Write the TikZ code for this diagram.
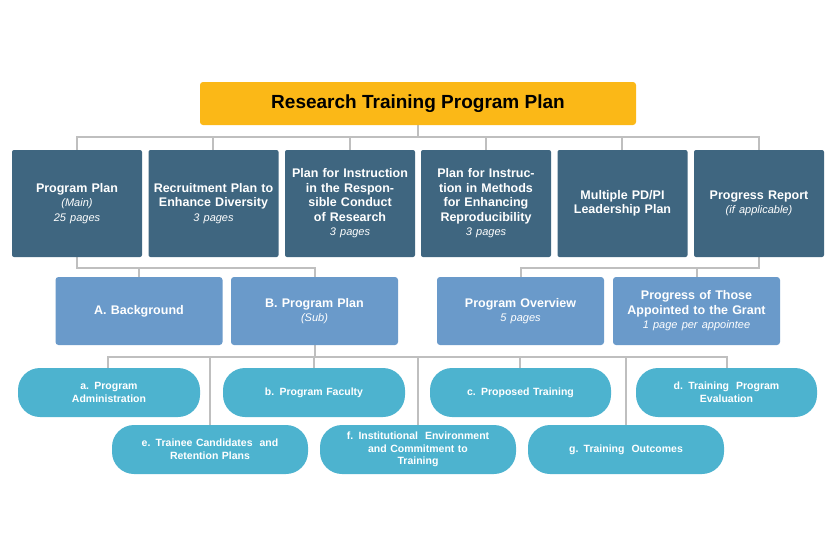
\documentclass[tikz,border=0pt]{standalone}
\usepackage{fontspec}
\setmainfont{Liberation Sans}
\newcommand\subtx[1]{{\normalfont\itshape\fontsize{11}{13}\selectfont #1}}
\begin{document}
\begin{tikzpicture}[x=1pt,y=-1pt,
 conn/.style={draw=black!25,line width=2.5pt},
 topbox/.style={fill=topc,draw=none,rounded corners=2pt,text=white,font=\bfseries\fontsize{12.5}{14.5}\selectfont,align=center,minimum width=130pt,minimum height=107pt,inner sep=1pt,text width=126pt},
 midbox/.style={fill=midc,draw=none,rounded corners=3pt,text=white,font=\bfseries\fontsize{12.5}{14.5}\selectfont,align=center,minimum width=167pt,minimum height=68pt,inner sep=1pt,text width=160pt},
 pill/.style={fill=pillc,draw=none,rounded corners=22pt,text=white,font=\bfseries\fontsize{10.5}{13}\selectfont,align=center,minimum height=49pt,inner sep=1pt}]
\definecolor{topc}{HTML}{3F6680}
\definecolor{midc}{HTML}{6A9ACA}
\definecolor{pillc}{HTML}{4DB3CF}
\definecolor{orangec}{HTML}{FBB817}
\useasboundingbox (0,0) rectangle (835,557);
\draw[conn] (418,125) -- (418,137);
\draw[conn] (77,150) -- (77,137) -- (759,137) -- (759,150);
\foreach \x in {213,350,486,622} \draw[conn] (\x,137) -- (\x,150);
\draw[conn] (77,257) -- (77,268) -- (139,268) -- (139,277);
\draw[conn] (139,268) -- (315,268) -- (315,277);
\draw[conn] (759,257) -- (759,268) -- (521,268) -- (521,277);
\draw[conn] (697,268) -- (697,277);
\draw[conn] (315,345) -- (315,357);
\draw[conn] (108,368) -- (108,357) -- (727,357) -- (727,368);
\draw[conn] (210,357) -- (210,425);
\draw[conn] (314,357) -- (314,368);
\draw[conn] (418,357) -- (418,425);
\draw[conn] (520,357) -- (520,368);
\draw[conn] (626,357) -- (626,425);
\node[fill=orangec,rounded corners=3pt,minimum width=436pt,minimum height=43pt,font=\bfseries\fontsize{19}{22}\selectfont] (title) at (418,103.5) {Research Training Program Plan};
\node[topbox] (p1) at (77,203.5) {Program Plan\\\subtx{(Main)}\\\subtx{25 pages}};
\node[topbox] (p2) at (213.5,203.5) {Recruitment Plan to Enhance Diversity\\\subtx{3 pages}};
\node[topbox] (p3) at (350,203.5) {Plan for Instruction in the Responsible Conduct of Research\\\subtx{3 pages}};
\node[topbox] (p4) at (486,203.5) {Plan for Instruction in Methods for Enhancing Reproducibility\\\subtx{3 pages}};
\node[topbox] (p5) at (622.5,203.5) {Multiple PD/PI\\Leadership Plan};
\node[topbox] (p6) at (759,203.5) {Progress Report\\\subtx{(if applicable)}};
\node[midbox] (m1) at (139,311) {A. Background};
\node[midbox] (m2) at (314.5,311) {B. Program Plan\\\subtx{(Sub)}};
\node[midbox] (m3) at (520.5,311) {Program Overview\\\subtx{5 pages}};
\node[midbox] (m4) at (696.5,311) {Progress of Those Appointed to the Grant\\\subtx{1 page per appointee}};
\node[pill,minimum width=182pt,text width=150pt] (a) at (109,392.5) {a. Program\\Administration};
\node[pill,minimum width=182pt,text width=150pt] (b) at (314,392.5) {b. Program Faculty};
\node[pill,minimum width=181pt,text width=150pt] (c) at (520.5,392.5) {c. Proposed Training};
\node[pill,minimum width=181pt,text width=150pt] (d) at (726.5,392.5) {d. Training\ \ Program\\Evaluation};
\node[pill,minimum width=196pt,text width=170pt] (e) at (210,449.5) {e. Trainee Candidates\ \ and\\Retention Plans};
\node[pill,minimum width=196pt,text width=170pt,font=\bfseries\fontsize{10.5}{12.5}\selectfont] (f) at (418,449.5) {f. Institutional\ \ Environment\\and Commitment to\\Training};
\node[pill,minimum width=196pt,text width=170pt] (g) at (626,449.5) {g. Training\ \ Outcomes};
\end{tikzpicture}
\end{document}
